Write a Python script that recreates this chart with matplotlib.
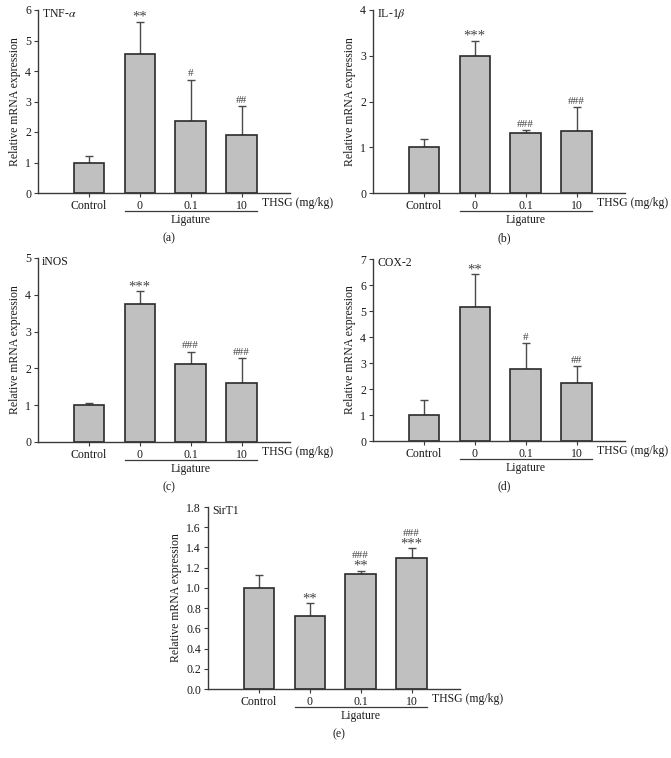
import matplotlib
matplotlib.use("Agg")
import matplotlib.pyplot as plt
from matplotlib import transforms as mtransforms
import numpy as np

plt.rcParams['font.family'] = ['Liberation Serif', 'DejaVu Serif']
plt.rcParams['mathtext.fontset'] = 'stix'

categories = ["Control", "0", "0.1", "10"]

tnf_mean = [1.00, 4.57, 2.36, 1.90]
tnf_err = [0.20, 1.05, 1.36, 0.95]
tnf_sig = ["", "**", "#", "##"]

il1b_mean = [1.00, 2.99, 1.31, 1.36]
il1b_err = [0.17, 0.34, 0.06, 0.51]
il1b_sig = ["", "***", "###", "###"]

inos_mean = [1.00, 3.76, 2.12, 1.60]
inos_err = [0.05, 0.34, 0.33, 0.68]
inos_sig = ["", "***", "###", "###"]

cox2_mean = [1.00, 5.15, 2.76, 2.22]
cox2_err = [0.56, 1.27, 1.00, 0.65]
cox2_sig = ["", "**", "#", "##"]

sirt1_mean = [1.00, 0.72, 1.14, 1.30]
sirt1_err = [0.13, 0.13, 0.03, 0.09]
sirt1_sig = ["", "**", "###\n**", "###\n***"]

W, H = 671, 758
fig = plt.figure(figsize=(W / 100, H / 100), dpi=100)

TXT = '#1a1a1a'
FS = 8.5


def panel(left, bot, top, means, errs, ymax, step, name, sig, caption, decimals=0):
    ax = fig.add_axes([left / W, 1 - bot / H, 252 / W, (bot - top) / H])
    x = np.arange(len(categories))
    ax.bar(x, means, width=0.6, color='#c0c0c0', edgecolor='#2b2b2b',
           linewidth=1.2, zorder=2)
    ax.errorbar(x, means, yerr=[np.zeros(len(errs)), errs], fmt='none',
                ecolor='#4a4a4a', elinewidth=1.0, capsize=3, capthick=1.0,
                zorder=1)
    ax.set_xlim(-1.0, 3.95)
    ax.set_ylim(0, ymax)
    ticks = np.arange(0, ymax + step / 2, step)
    ax.set_yticks(ticks)
    ax.set_yticklabels([f"{t:.{decimals}f}" for t in ticks])
    ax.set_xticks(x)
    ax.set_xticklabels(categories)
    for s in ['top', 'right']:
        ax.spines[s].set_visible(False)
    for s in ['left', 'bottom']:
        ax.spines[s].set_color('#3a3a3a')
        ax.spines[s].set_linewidth(1.0)
    ax.tick_params(direction='out', length=3, width=0.8, colors='#3a3a3a',
                   labelcolor=TXT, labelsize=FS, pad=2)
    ax.set_ylabel('Relative mRNA expression', fontsize=FS, color=TXT, labelpad=3)
    ax.annotate(name, xy=(0, 1), xycoords='axes fraction', xytext=(3, -3),
                textcoords='offset points', ha='left', va='center',
                fontsize=FS, color=TXT)
    for xi, m, e, s in zip(x, means, errs, sig):
        if not s:
            continue
        off = 1.0
        for line in reversed(s.split('\n')):
            if '*' in line:
                ax.annotate(line, xy=(xi, m + e), xytext=(0, off - 2.5),
                            textcoords='offset points', ha='center', va='bottom',
                            fontsize=10.5, color='#444444', annotation_clip=False)
                off += 6.5
            else:
                ax.annotate(line, xy=(xi, m + e), xytext=(0, off),
                            textcoords='offset points', ha='center', va='bottom',
                            fontsize=8, color='#444444', annotation_clip=False)
                off += 7
    blend = mtransforms.blended_transform_factory(ax.transData, ax.transAxes)
    ax.text(3.4, 0, 'THSG (mg/kg)',
            transform=mtransforms.offset_copy(blend, fig=fig, y=-10, units='dots'),
            ha='left', va='center', fontsize=FS, color=TXT)
    ax.plot([0.7, 3.3], [0, 0], color='#3a3a3a', lw=0.9, clip_on=False,
            transform=mtransforms.offset_copy(blend, fig=fig, y=-18, units='dots'))
    ax.text(2.0, 0, 'Ligature',
            transform=mtransforms.offset_copy(blend, fig=fig, y=-21, units='dots'),
            ha='center', va='top', fontsize=FS, color=TXT)
    ax.text(0.52, 0, caption,
            transform=mtransforms.offset_copy(ax.transAxes, fig=fig, y=-45, units='dots'),
            ha='center', va='center', fontsize=FS, color=TXT)
    return ax


panel(38, 193, 10, tnf_mean, tnf_err, 6, 1, r'TNF-$\alpha$', tnf_sig, '(a)')
panel(373, 193, 10, il1b_mean, il1b_err, 4, 1, r'IL-1$\beta$', il1b_sig, '(b)')
panel(38, 442, 258, inos_mean, inos_err, 5, 1, 'iNOS', inos_sig, '(c)')
panel(373, 441, 259, cox2_mean, cox2_err, 7, 1, 'COX-2', cox2_sig, '(d)')
panel(208, 689, 507, sirt1_mean, sirt1_err, 1.8, 0.2, 'SirT1', sirt1_sig, '(e)', decimals=1)

fig.savefig('out.png', dpi=100)
